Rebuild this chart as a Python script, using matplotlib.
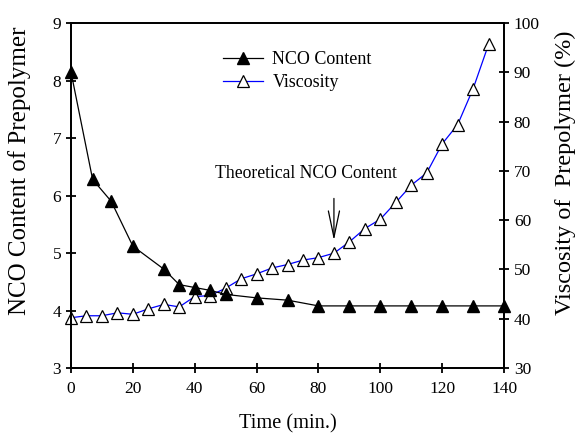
import matplotlib
matplotlib.use("Agg")
import matplotlib.pyplot as plt

plt.rcParams['font.family'] = ['Liberation Serif', 'DejaVu Serif']

# NCO content (left axis)
nco_time = [0, 7, 13, 20, 30, 35, 40, 45, 50, 60, 70, 80, 90, 100, 110, 120, 130, 140]
nco_content = [8.15, 6.28, 5.9, 5.12, 4.72, 4.45, 4.4, 4.35, 4.28, 4.22, 4.18, 4.08,
               4.08, 4.08, 4.08, 4.08, 4.08, 4.08]

# Viscosity (right axis)
visc_time = [0, 5, 10, 15, 20, 25, 30, 35, 40, 45, 50, 55, 60, 65, 70, 75, 80, 85,
             90, 95, 100, 105, 110, 115, 120, 125, 130, 135]
viscosity = [40.2, 40.6, 40.6, 41.2, 40.9, 42.0, 42.9, 42.4, 44.5, 44.7, 46.2, 48.1,
             49.1, 50.3, 51.0, 51.9, 52.4, 53.3, 55.6, 58.3, 60.2, 63.6, 67.1, 69.6,
             75.5, 79.4, 86.7, 95.7]

fig = plt.figure(figsize=(5.79, 4.36), dpi=100)
ax = fig.add_axes([0.1226, 0.156, 0.748, 0.791])
ax2 = ax.twinx()

l1, = ax.plot(nco_time, nco_content, color='black', lw=0.9, marker='^', ms=9.3,
              mfc='black', mec='black', label='NCO Content', clip_on=False, zorder=3)
l2, = ax2.plot(visc_time, viscosity, color='blue', lw=0.9, marker='^', ms=9.3,
               mfc='white', mec='black', mew=0.9, label='Viscosity', clip_on=False)

ax.set_xlim(0, 140)
ax.set_ylim(3, 9)
ax2.set_ylim(30, 100)
ax.set_xticks(range(0, 141, 20))
ax.set_yticks(range(3, 10))
ax2.set_yticks(range(30, 101, 10))

for a in (ax, ax2):
    for s in a.spines.values():
        s.set_linewidth(1.3)
    a.tick_params(direction='inout', length=7, width=1.3, labelsize=12.5)
ax.tick_params(axis='x', pad=6)

ax.set_xlabel('Time (min.)', fontsize=14.7, labelpad=12)
ax.set_ylabel('NCO Content of Prepolymer', fontsize=18)
ax.yaxis.set_label_coords(-0.093, 0.571)
ax2.set_ylabel('Viscosity of  Prepolymer (%)', fontsize=17.5)
ax2.yaxis.set_label_coords(1.117, 0.565)

ax.annotate('', xy=(85, 5.22), xytext=(85, 5.95),
            arrowprops=dict(arrowstyle='->, head_length=0.95, head_width=0.2',
                            color='black', lw=0.9, mutation_scale=20,
                            shrinkA=0, shrinkB=0))
ax.text(76, 6.39, 'Theoretical NCO Content', fontsize=12.7, ha='center', va='center')

ax.set_zorder(ax2.get_zorder() + 1)
ax.patch.set_visible(False)

leg = ax.legend(handles=[l1, l2], loc='upper left', bbox_to_anchor=(0.313, 0.965),
                frameon=False, fontsize=13, handlelength=2.2, labelspacing=0.3,
                handletextpad=0.55)

fig.savefig('out.png', dpi=100)
